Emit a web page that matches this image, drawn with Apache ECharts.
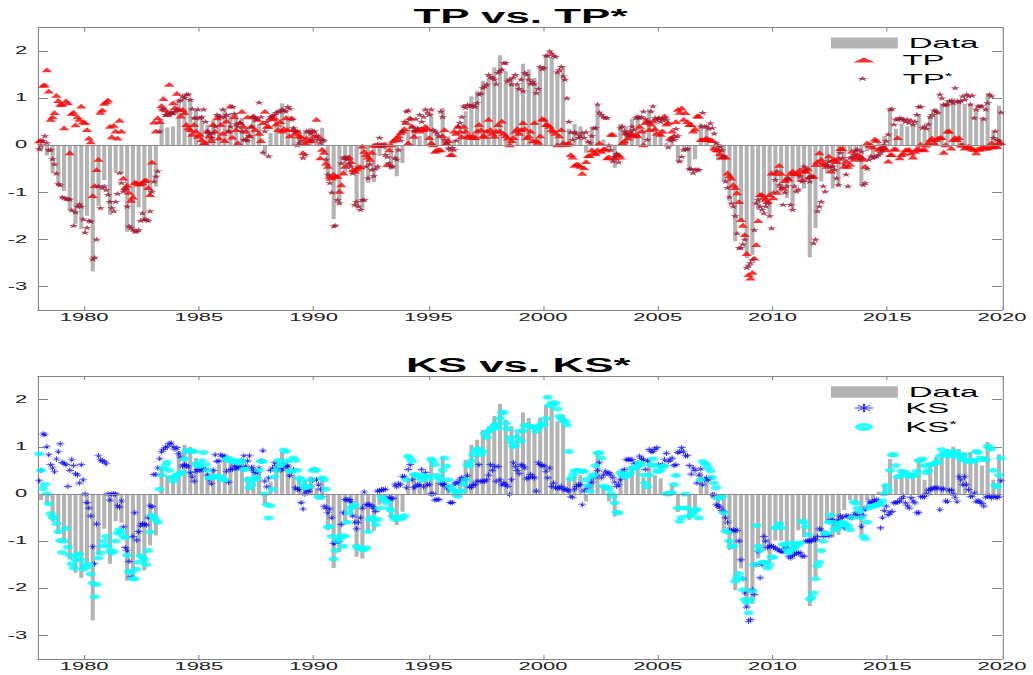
<!DOCTYPE html>
<html><head><meta charset="utf-8">
<script src="https://cdn.jsdelivr.net/npm/echarts@6/dist/echarts.min.js"></script>
<style>
html,body{margin:0;padding:0;background:#fff;overflow:hidden;width:1033px;height:675px}
#chart{width:470px;height:675px;transform:scaleX(2.19787);transform-origin:0 0;}
</style></head><body><div id="chart"></div>
<script>
// Tick labels
const yearTicks = [1980, 1985, 1990, 1995, 2000, 2005, 2010, 2015, 2020];
const valueTicks = [-3, -2, -1, 0, 1, 2];

// Quarterly data (bars), 1978Q1 .. 2019Q4
const dataBars = [
-0.13,-0.22,-0.59,-0.85, -0.97,-1.39,-1.67,-1.78, -1.5,-2.68,-1.29,-0.74, -1.48,-0.58,-0.61,-1.84,
-1.75,-1.32,-1.62,-1.09, -0.88,0.56,0.38,0.4, 0.91,1.04,1.0,0.76, 0.6,0.44,0.53,0.63,
0.77,0.69,0.69,0.58, 0.37,0.62,0.44,-0.22, 0.26,0.55,0.89,0.63, 0.4,0.33,0.3,0.37,
0.12,0.37,-0.77,-1.57, -1.23,-0.6,-0.45,-1.33, -1.37,-0.8,-0.78,-0.23, -0.1,-0.52,-0.66,-0.38,
0.33,0.4,0.2,0.4, 0.69,0.26,0.79,0.19, 0.12,0.26,0.72,1.04, 1.15,1.36,1.43,1.65,
1.91,1.57,1.43,1.29, 1.73,1.61,1.43,1.62, 1.89,1.86,1.54,1.68, 0.35,0.45,0.4,-0.16,
0.37,0.84,0.12,-0.16, -0.48,0.45,0.4,0.56, 0.65,0.35,0.76,0.4, 0.33,0.05,0.2,-0.38,
-0.05,-0.55,-0.3,0.46, 0.33,-0.1,-0.32,-0.77, -1.19,-2.04,-1.58,-2.4, -2.33,-1.37,-1.2,-1.47,
-0.99,-0.99,-1.12,-1.35, -0.77,-0.92,-2.38,-1.76, -0.77,-0.59,-0.92,-0.87, -0.34,-0.13,-0.23,-0.87,
-0.13,-0.23,0.05,0.2, 0.74,0.35,0.46,0.4, 0.44,0.67,0.3,0.6, 0.78,0.88,0.95,1.0,
0.95,0.88,0.89,0.74, 0.6,1.1,0.3,0.84
];

// Monthly TP, Jan 1978 .. Dec 2019
const tp = [
0.09,0.1,1.27,1.28,1.6,1.15,0.55,0.6,0.69,1.06,0.95,0.87,
0.87,0.37,0.94,0.9,-0.16,0.67,0.7,0.43,0.6,0.55,0.83,0.5,
0.48,0.33,0.15,0.07,-1.07,-0.86,-0.52,-0.3,0.7,0.75,0.89,0.92,
0.96,0.4,0.18,0.42,0.3,0.15,0.53,0.3,-0.7,-0.9,-0.85,-1.0,
-1.17,-1.1,-0.79,-0.8,-0.82,-0.82,-0.8,-0.75,-0.74,-0.9,-1.05,-0.36,
0.49,0.3,0.58,0.5,0.84,0.99,0.75,0.65,1.29,0.69,0.9,0.8,
1.1,0.76,0.62,0.76,0.69,0.44,0.37,0.33,0.23,0.44,0.3,0.19,
0.23,0.12,0.05,0.04,0.3,0.2,0.1,0.44,0.3,0.58,0.15,0.44,
0.25,0.1,0.51,0.3,0.83,0.17,0.6,0.33,0.05,0.48,0.72,0.4,
0.3,0.6,0.2,0.4,0.62,0.33,0.55,0.25,0.1,0.48,0.72,0.4,
0.4,0.58,0.56,0.58,0.45,0.33,0.5,0.3,0.35,0.58,0.33,0.2,
0.58,0.33,0.25,0.3,0.2,0.18,-0.16,0.05,0.15,0.09,0.1,0.3,
0.2,0.55,0.19,-0.27,-0.09,-0.15,-0.38,-0.45,-0.66,-0.7,-0.62,-0.66,
-0.66,-0.98,-0.84,-0.59,-0.45,-0.27,-0.25,-0.35,-0.52,-0.55,-0.5,-0.46,
-0.46,-0.02,-0.13,-0.2,-0.25,-0.3,-0.15,0.0,0.0,0.02,0.0,0.01,
0.01,0.02,-0.41,-0.1,0.01,0.09,0.12,0.16,0.2,0.26,0.3,0.35,
0.48,0.05,0.58,0.4,0.19,0.33,0.33,0.3,0.35,0.33,0.4,0.35,
0.16,0.05,0.01,-0.13,-0.1,-0.1,-0.1,0.2,0.33,0.05,0.1,-0.2,
-0.2,0.3,0.25,0.4,0.3,0.18,0.4,0.3,0.19,0.2,0.16,0.2,
0.16,0.3,0.44,0.33,0.2,0.19,0.3,0.55,0.33,0.25,0.19,0.3,
0.44,0.3,0.51,0.25,0.2,0.15,0.01,0.1,0.16,0.3,0.35,0.25,
0.33,0.48,0.35,0.16,0.2,0.3,0.09,0.48,0.1,0.06,0.2,0.56,
0.55,0.44,0.44,0.4,0.33,0.3,0.25,0.01,0.2,0.33,0.05,0.02,
0.02,0.05,-0.2,-0.25,-0.43,-0.4,-0.41,-0.45,-0.6,-0.48,-0.35,-0.22,
-0.22,-0.1,-0.15,-0.18,-0.1,0.05,-0.13,-0.08,-0.08,-0.27,-0.25,0.23,
0.23,-0.27,-0.2,-0.2,-0.25,0.05,0.09,0.26,0.15,0.23,0.24,0.2,
0.23,0.2,0.4,0.3,0.01,0.48,0.51,0.33,0.45,0.51,0.35,0.25,
0.58,0.23,0.3,0.62,0.45,0.48,0.15,0.3,0.2,0.5,0.76,0.7,
0.79,0.55,0.69,0.5,0.44,0.44,0.3,0.35,0.62,0.62,0.12,0.12,
0.12,0.15,0.12,0.12,0.1,-0.06,-0.1,-0.1,-0.18,-0.25,-0.24,-0.25,
-0.59,-0.65,-0.7,-0.84,-0.9,-1.01,-1.2,-1.58,-1.7,-1.9,-2.3,-2.75,
-2.82,-2.7,-2.4,-2.11,-1.6,-1.05,-1.05,-1.1,-1.15,-1.2,-1.05,-0.59,
-1.12,-0.59,-1.0,-0.43,-0.6,-0.91,-0.75,-0.7,-0.72,-0.6,-0.55,-0.6,
-0.61,-0.6,-0.52,-0.73,-0.55,-0.55,-0.5,-0.66,-0.66,-0.66,-0.41,-0.35,
-0.16,-0.3,-0.38,-0.41,-0.45,-0.23,-0.55,-0.32,-0.3,-0.35,-0.28,-0.07,
-0.07,-0.45,-0.34,-0.45,-0.4,-0.13,-0.3,-0.25,-0.2,-0.23,-0.25,-0.3,
-0.45,0.05,0.0,0.01,-0.04,0.13,0.1,-0.08,-0.08,-0.02,-0.05,-0.1,
-0.34,-0.2,-0.2,-0.08,-0.08,0.16,-0.27,-0.2,-0.17,-0.1,-0.1,-0.09,
-0.17,-0.25,-0.13,-0.08,-0.08,0.02,-0.1,-0.09,0.0,0.05,0.12,0.15,
0.05,0.12,0.15,0.16,0.16,-0.15,0.01,0.3,0.3,-0.06,0.12,0.16,
0.12,0.16,0.0,0.01,-0.06,-0.03,-0.02,-0.05,-0.08,-0.09,-0.16,-0.08,
-0.08,-0.04,-0.05,-0.06,-0.06,-0.03,0.05,-0.04,0.0,-0.03,0.06,0.05
];

// Monthly TP*
const tpStar = [
-0.08,0.0,0.1,0.2,0.05,-0.1,-0.1,-0.29,-0.4,-0.6,-0.82,-0.85,
-1.1,-1.12,-1.14,-1.14,-1.15,-1.38,-1.71,-1.42,-1.3,-1.25,-1.3,-1.57,
-1.85,-1.75,-1.6,-1.62,-2.42,-2.38,-2.0,-0.87,-1.33,-0.9,-0.87,-0.95,
-1.05,-1.2,-1.33,-1.4,-1.2,-1.03,-0.59,-0.8,-0.98,-0.94,-1.3,-1.72,
-1.75,-1.79,-1.83,-1.83,-1.8,-1.6,-1.44,-1.57,-1.58,-1.6,-1.4,-0.98,
-0.77,-0.66,-0.55,0.3,0.76,0.78,0.65,0.7,0.66,0.7,0.68,0.72,
0.76,0.94,0.96,1.04,1.01,1.08,1.08,0.97,0.77,0.58,0.58,0.76,
0.58,0.6,0.76,0.5,0.3,0.25,0.16,0.26,0.4,0.65,0.62,0.6,
0.76,0.6,0.65,0.3,0.4,0.82,0.67,0.45,0.4,0.48,0.3,0.12,
0.12,0.1,0.2,0.4,0.6,0.58,0.55,0.91,0.6,-0.15,0.3,0.5,
-0.23,0.6,0.63,0.65,0.69,0.72,0.72,0.76,0.74,0.72,0.82,0.78,
0.55,0.37,0.3,0.0,0.05,0.1,-0.27,-0.2,0.3,0.3,0.25,0.12,
0.3,0.2,0.12,0.05,0.12,0.1,-0.3,-0.62,-0.8,-1.0,-1.72,-1.7,
-1.16,-1.23,-0.38,-0.27,-0.25,-0.3,-0.4,-0.45,-0.6,-1.26,-1.2,-1.3,
-1.37,-1.16,-1.16,-0.45,-0.7,-0.4,-0.52,-0.65,-0.5,-0.45,0.16,0.0,
-0.02,-0.2,-0.25,-0.38,-0.45,-0.45,-0.27,-0.3,-0.1,0.1,0.3,0.5,
0.72,0.74,0.55,0.4,0.3,0.56,0.37,0.65,0.5,0.6,0.76,0.7,
0.65,0.76,0.33,0.3,0.26,0.2,0.72,0.6,0.12,0.05,-0.06,-0.1,
-0.05,-0.1,0.1,0.4,0.48,0.6,0.83,0.8,0.86,0.84,0.83,0.85,
0.82,0.9,1.08,1.1,1.22,1.25,1.29,1.5,1.45,1.43,1.4,1.3,
1.54,1.58,1.61,1.75,1.75,1.36,1.4,1.29,1.44,1.5,1.3,1.2,
1.4,1.15,1.54,1.5,1.4,1.31,1.35,1.3,1.11,1.2,1.67,1.62,
1.65,1.91,1.9,2.0,1.95,1.9,1.88,1.55,1.6,1.67,1.47,1.4,
1.0,0.5,0.28,0.12,0.28,0.25,0.16,0.2,0.26,0.16,0.28,0.08,
0.05,0.2,0.37,0.37,0.87,0.7,0.65,0.6,0.58,0.58,0.0,-0.1,
-0.34,-0.24,-0.18,-0.36,0.37,0.4,0.3,0.25,0.2,0.3,0.4,0.33,
0.58,0.6,0.58,0.6,0.72,0.56,0.12,0.5,0.72,0.83,0.58,0.54,
0.58,0.5,0.55,0.58,0.54,-0.04,0.1,0.15,0.12,0.35,0.2,-0.34,
-0.24,-0.1,-0.08,-0.08,-0.5,-0.5,-0.59,-0.52,-0.52,-0.52,0.4,0.69,
0.4,0.4,0.35,0.47,0.37,0.25,0.05,0.0,-0.03,-0.1,-0.23,-0.77,
-0.9,-1.1,-1.23,-1.3,-1.5,-1.87,-2.18,-2.18,-2.1,-2.0,-2.6,-2.55,
-2.5,-2.43,-1.8,-1.23,-1.16,-1.3,-1.37,-1.44,-1.3,-1.23,-1.5,-1.76,
-1.0,-0.73,-0.55,-0.84,-0.9,-1.26,-1.0,-0.87,-0.7,-1.26,-1.37,-0.87,
-0.98,-0.94,-0.66,-0.77,-0.45,-0.5,-0.7,-0.77,-0.66,-2.08,-2.0,-1.4,
-1.3,-1.2,-0.87,-0.98,-0.41,-0.34,-0.45,-0.45,-0.52,-0.7,-0.84,-0.16,
-0.27,-0.4,-0.62,-0.87,-0.27,-0.25,-0.2,-0.11,-0.09,-0.3,-0.13,-0.84,
-0.8,-0.5,-0.3,-0.23,-0.27,-0.25,-0.23,-0.2,-0.16,-0.09,0.0,0.09,
0.23,0.76,0.77,0.44,0.55,0.55,0.58,0.56,0.55,0.5,0.55,0.48,
0.53,0.44,0.5,0.65,0.82,0.82,0.37,0.4,0.35,0.45,0.6,0.65,
0.74,0.72,0.69,1.08,1.0,0.87,0.85,0.87,0.94,0.94,0.9,1.22,
0.94,0.92,0.94,1.04,0.97,1.08,1.04,0.87,1.06,0.58,0.76,0.83,
0.83,0.83,0.56,0.76,0.9,1.08,1.04,0.16,0.3,0.12,0.1,0.7
];

// Monthly KS
const ks = [
0.28,0.5,1.27,1.26,1.0,0.83,0.62,0.55,0.47,0.74,0.9,1.06,
0.67,0.65,0.62,0.16,0.5,0.73,0.6,0.43,0.4,0.23,0.62,0.3,
0.0,-0.18,-0.3,-0.47,-1.12,-1.48,-0.64,0.81,0.73,0.7,0.68,0.64,
0.0,-0.13,0.0,0.0,0.0,-0.25,-0.28,-0.15,-0.7,-1.14,-1.2,-1.43,
-1.76,-0.9,-0.4,-0.98,-0.8,-0.67,-0.63,-0.65,-0.66,-0.5,-0.25,-0.27,
0.41,0.41,0.55,0.75,0.9,0.94,0.99,1.0,1.07,1.08,1.0,0.95,
0.98,0.85,0.78,0.59,0.62,0.6,0.57,0.45,0.37,0.27,0.48,0.52,
0.5,0.52,0.52,0.52,0.4,0.3,0.22,0.5,0.83,0.69,0.7,0.83,
0.8,0.8,0.48,0.25,0.52,0.52,0.59,0.55,0.55,0.59,0.7,0.81,
0.59,0.7,0.81,0.56,0.5,0.45,0.45,0.55,0.7,0.92,0.27,0.15,
0.34,0.5,0.55,0.66,0.6,0.52,0.5,0.53,0.64,0.58,0.59,0.39,
0.45,0.52,0.13,0.1,0.09,-0.18,-0.32,0.0,0.06,0.06,0.15,0.29,
0.52,0.3,0.2,0.1,-0.05,-0.26,-0.3,-0.4,-0.32,-0.5,-1.05,-1.02,
-1.0,-1.0,-0.65,-0.4,-0.12,-0.13,-0.12,-0.16,-0.47,-0.6,-0.74,-0.6,
-0.5,-0.3,0.04,-0.23,-0.22,-0.23,-0.26,-0.3,-0.37,0.06,0.06,0.09,
0.09,0.1,-0.1,-0.08,-0.09,-0.1,0.2,0.15,0.22,0.2,0.37,0.37,
0.13,0.52,0.62,0.3,0.13,0.16,0.2,0.2,0.52,0.15,0.45,0.2,
0.2,0.0,0.0,-0.13,-0.12,-0.12,0.22,0.2,0.22,0.15,0.1,-0.18,
-0.18,0.2,0.25,0.23,0.3,0.35,0.3,0.3,0.39,0.15,0.14,0.2,
0.2,0.27,0.62,0.27,0.27,0.27,0.3,0.4,0.62,0.5,0.58,0.27,
0.58,0.3,0.2,0.23,0.2,0.16,-0.01,0.3,0.66,0.58,0.5,0.43,
0.62,0.59,0.55,0.32,0.35,0.41,0.37,0.34,0.06,0.66,0.62,0.6,
0.59,0.48,0.34,0.55,0.16,0.23,0.13,0.12,0.13,0.16,0.1,0.1,
0.09,0.06,-0.05,-0.07,0.1,0.16,0.2,0.2,-0.23,0.06,0.1,0.15,
0.2,0.25,0.34,0.4,0.5,0.66,0.34,0.4,0.48,0.44,0.45,0.4,
0.34,0.25,0.16,0.2,0.3,0.48,0.52,0.73,0.73,0.73,0.73,0.65,
0.57,0.65,0.8,0.75,0.73,0.52,0.7,0.94,0.9,0.9,0.95,0.98,
0.62,0.6,0.62,0.73,0.86,0.69,0.72,0.76,0.6,0.62,0.88,0.9,
0.98,0.9,0.81,0.81,0.6,0.42,0.55,0.5,0.23,0.4,0.53,0.2,
0.3,0.34,0.3,0.34,-0.01,-0.02,-0.23,-0.25,-0.28,-0.35,-0.37,-0.5,
-0.6,-0.77,-0.78,-0.76,-0.78,-0.77,-1.0,-1.4,-1.8,-2.1,-2.4,-2.7,
-2.66,-2.03,-2.13,-1.5,-1.22,-1.78,-1.5,-0.9,-1.0,-1.14,-1.1,-1.11,
-1.12,-1.15,-1.18,-1.2,-1.22,-1.22,-1.15,-1.14,-1.32,-1.36,-1.3,-1.28,
-1.25,-1.25,-1.25,-1.32,-1.32,-1.0,-1.0,-1.0,-1.0,-0.94,-0.97,-0.9,
-0.74,-0.77,-0.9,-0.87,-0.85,-0.89,-0.54,-0.57,-0.6,-0.67,-0.55,-0.47,
-0.5,-0.72,-0.47,-0.47,-0.5,-0.51,-0.45,-0.4,-0.45,-0.49,-0.69,-0.45,
-0.33,-0.28,-0.16,-0.2,-0.16,-0.15,-0.12,-0.15,-0.72,-0.5,-0.35,-0.26,
-0.44,-0.4,-0.37,-0.19,-0.18,-0.17,-0.15,-0.1,-0.05,-0.19,-0.25,-0.3,
-0.08,-0.15,-0.19,-0.4,-0.4,-0.06,-0.06,-0.06,0.0,0.08,0.1,0.11,
0.13,0.12,0.13,-0.33,0.1,0.11,-0.15,-0.16,0.08,0.08,0.0,-0.07,
-0.16,0.37,0.3,0.2,0.37,0.2,0.09,-0.05,-0.05,0.02,-0.16,-0.14,
-0.16,-0.2,-0.26,-0.07,-0.05,-0.05,-0.08,-0.05,-0.06,-0.08,-0.05,0.28
];

// Monthly KS*
const ksStar = [
0.85,0.5,0.11,0.2,0.0,-0.21,-0.42,-0.5,-0.51,-0.63,-0.8,-0.99,
-1.24,-1.0,-0.73,-1.13,-1.3,-1.48,-1.57,-1.39,-1.3,-1.27,-1.4,-1.6,
-1.5,-1.55,-1.5,-1.7,-1.89,-2.18,-1.92,-1.36,-1.25,-1.1,-1.0,-0.9,
-1.1,-1.2,-1.25,-1.22,-1.0,-0.83,-0.76,-0.8,-0.9,-0.93,-1.3,-1.64,
-1.67,-1.8,-1.8,-1.6,-1.45,-1.31,-1.35,-1.39,-1.5,-1.2,-0.81,-0.45,
-0.5,-0.55,-0.6,0.1,0.4,0.53,0.6,0.67,0.5,0.35,0.27,0.34,
0.4,0.42,0.45,0.45,0.74,0.9,0.93,0.92,0.9,0.9,0.64,0.59,
0.59,0.7,0.88,0.62,0.5,0.34,0.34,0.37,0.37,0.37,0.35,0.36,
0.3,0.3,0.73,0.76,0.7,0.69,0.7,0.7,0.66,0.66,0.7,0.52,
0.52,0.3,0.13,0.2,0.3,0.36,0.33,0.5,0.69,0.69,0.0,-0.23,
-0.51,-0.25,0.1,0.36,0.5,0.71,0.6,0.65,0.93,0.9,0.7,0.48,
0.48,0.76,0.71,0.5,0.34,0.3,0.2,0.13,0.15,0.16,0.3,0.5,
0.52,0.5,-0.05,-0.08,0.34,0.3,0.1,-0.7,-0.69,-0.9,-1.38,-1.2,
-1.0,-0.95,-0.88,-1.11,-0.9,-0.6,-0.4,-0.3,-0.26,-0.23,-1.11,-1.15,
-1.15,-1.18,-1.18,-1.14,-0.8,-0.54,-0.5,-0.55,-0.65,-0.54,-0.3,-0.05,
-0.1,-0.15,-0.19,-0.3,-0.35,-0.47,-0.54,-0.5,-0.52,-0.53,-0.5,-0.46,
0.3,0.8,0.75,0.69,0.41,0.41,0.39,0.35,0.3,0.39,0.37,0.37,
0.32,0.74,0.7,0.62,0.39,0.35,0.29,0.5,0.76,0.59,0.3,0.16,
0.1,0.06,-0.02,-0.05,0.06,0.06,0.2,0.3,0.62,0.59,0.7,0.83,
0.9,0.95,0.95,0.83,0.9,1.28,1.2,1.33,1.35,1.4,1.45,1.49,
1.4,1.6,1.72,1.73,1.5,1.38,1.19,1.1,1.01,1.02,1.2,1.33,
1.12,1.34,1.45,1.45,1.44,1.43,1.42,1.42,1.33,1.4,1.45,1.5,
1.47,1.6,2.05,1.87,1.93,1.9,1.93,1.8,1.65,1.6,1.55,1.54,
1.46,0.9,0.32,0.4,0.48,0.5,0.5,0.48,0.48,0.48,0.3,0.18,
0.06,0.37,0.41,0.6,0.87,0.87,0.76,0.16,0.15,0.14,0.1,0.0,
-0.05,-0.19,-0.39,-0.4,0.45,0.4,0.37,0.37,0.4,0.45,0.55,0.55,
0.55,0.6,0.66,0.62,0.4,0.23,0.15,0.4,0.62,0.74,0.6,0.48,
0.48,0.5,0.59,0.59,0.0,0.0,0.02,0.02,0.2,0.39,-0.3,-0.58,
-0.5,-0.3,0.0,-0.3,-0.47,-0.45,-0.4,-0.35,-0.33,-0.51,0.3,0.69,
0.65,0.62,0.55,0.49,0.35,0.23,0.13,-0.1,-0.08,-0.05,-0.4,-0.79,
-0.81,-1.0,-1.11,-1.11,-1.85,-1.78,-1.69,-1.8,-2.03,-2.24,-2.3,-2.52,
-2.24,-2.06,-1.5,-0.67,-1.11,-1.2,-1.45,-1.45,-1.45,-1.57,-1.5,-1.34,
-1.34,-0.72,-0.7,-0.63,-0.72,-1.07,-1.07,-1.18,-1.25,-1.04,-1.18,-1.14,
-1.1,-1.05,-1.04,-0.58,-0.6,-0.7,-0.86,-2.23,-2.2,-2.1,-1.8,-1.53,
-1.45,-1.2,-1.0,-0.84,-0.83,-0.6,-0.45,-0.6,-0.74,-0.76,-0.67,-0.65,
-0.6,-0.62,-0.65,-0.69,-0.76,-0.5,-0.17,-0.19,-0.3,-0.37,-0.5,-0.9,
-0.95,-0.6,-0.3,-0.26,-0.26,-0.26,-0.23,-0.22,-0.21,-0.15,0.0,0.18,
0.08,0.5,0.83,0.83,0.6,0.37,0.37,0.48,0.46,0.46,0.4,0.39,
0.37,0.39,0.4,0.48,0.71,0.71,0.74,0.6,0.45,0.5,0.62,0.63,
0.64,0.66,0.69,0.8,0.94,0.85,0.81,0.9,0.88,0.81,0.85,0.9,
0.85,0.8,0.75,0.73,0.83,0.69,0.72,0.71,0.69,0.7,0.9,0.88,
0.76,0.73,0.75,0.73,1.01,0.98,0.95,0.5,0.18,0.15,0.4,0.76
];

// ---- construction ----
const START = 1978;
const quarterPairs = arr => arr.map((v, i) => [START + (i + 0.5) / 4, v]);
const monthPairs = arr => arr.map((v, i) => [START + (i + 0.5) / 12, v]);

const FONT = 'Liberation Sans, Arial, Helvetica, sans-serif';
const AX = '#858585';
const STAR = 'path://M50,0L61.2,34.5L97.6,34.5L68.2,55.9L79.4,90.5L50,69.1L20.6,90.5L31.8,55.9L2.4,34.5L38.8,34.5Z';
const AST = 'path://M44,0L56,0L56,44L100,44L100,56L56,56L56,100L44,100L44,56L0,56L0,44L44,44Z M14,19L19,14L86,81L81,86Z M81,14L86,19L19,86L14,81Z';

const grids = [
  {left: 17.4, width: 440.5, top: 27.5, height: 282.5},
  {left: 17.4, width: 440.5, top: 376, height: 283}
];

function xAx(g, pos, lab) {
  return {type: 'value', gridIndex: g, position: pos, min: 1978, max: 2020,
    axisLine: {show: true, onZero: false, lineStyle: {color: AX, width: 1}},
    axisTick: {show: true, inside: true, length: 4, customValues: yearTicks, lineStyle: {color: AX, width: 0.5}},
    axisLabel: {show: lab, customValues: yearTicks, margin: 3, color: '#222', fontSize: 10, fontFamily: FONT,
      formatter: v => String(v)},
    splitLine: {show: false}};
}
function yAx(g, pos, lab) {
  return {type: 'value', gridIndex: g, position: pos, min: -3.5, max: 2.5,
    axisLine: {show: true, onZero: false, lineStyle: {color: AX, width: 0.5}},
    axisTick: {show: true, inside: true, length: 4.5, customValues: valueTicks, lineStyle: {color: AX, width: 1}},
    axisLabel: {show: lab, customValues: valueTicks, margin: 5, color: '#222', fontSize: 10, fontFamily: FONT,
      formatter: v => String(v)},
    splitLine: {show: false}};
}

const zeroLine = {silent: true, symbol: ['none', 'none'], label: {show: false},
  lineStyle: {color: '#8c8c8c', width: 1, type: 'solid'}, data: [{yAxis: 0}], animation: false};

const legTxt = (pad) => ({fontSize: 15, lineHeight: 15, color: '#000', fontFamily: FONT, padding: [0, 0, 0, pad],
  rich: {s: {fontSize: 9, lineHeight: 15, verticalAlign: 'top', color: '#000', fontFamily: FONT, padding: [0, 0, 4, 0]}}});
const supFmt = n => n === 'TP*' ? 'TP{s|*}' : (n === 'KS*' ? 'KS{s|*}' : n);

function leg(name, icon, left, top, w, h, pad) {
  return {data: [{name: name, icon: icon}], left: left, top: top, orient: 'vertical', padding: 0,
    itemWidth: w, itemHeight: h, selectedMode: false, formatter: supFmt, textStyle: legTxt(pad)};
}

const option = {
  animation: false,
  backgroundColor: '#fff',
  title: [
    {text: 'TP vs. TP*', left: 236.8, top: 6, textAlign: 'center', padding: 0,
     textStyle: {fontSize: 20, fontWeight: 'bold', color: '#000', fontFamily: FONT}},
    {text: 'KS vs. KS*', left: 235.8, top: 354.5, textAlign: 'center', padding: 0,
     textStyle: {fontSize: 20, fontWeight: 'bold', color: '#000', fontFamily: FONT}}
  ],
  legend: [
    leg('Data', 'rect', 378.1, 35.5, 30.4, 11, 0),
    leg('TP', 'triangle', 388.1, 52.5, 10, 5, 7.5),
    leg('TP*', STAR, 389.8, 71, 5.3, 6.5, 10.6),
    leg('Data', 'rect', 378.1, 384.5, 30.4, 11.5, 0),
    leg('KS', AST, 389.0, 400.5, 8.3, 8.4, 9.6),
    leg('KS*', 'circle', 389.0, 419.5, 8.2, 8.3, 9.7)
  ],
  grid: grids,
  xAxis: [xAx(0, 'bottom', true), xAx(0, 'top', false), xAx(1, 'bottom', true), xAx(1, 'top', false)],
  yAxis: [yAx(0, 'left', true), yAx(0, 'right', false), yAx(1, 'left', true), yAx(1, 'right', false)],
  series: [
    {type: 'bar', name: 'Data', xAxisIndex: 0, yAxisIndex: 0, data: quarterPairs(dataBars), barWidth: 1.85,
     itemStyle: {color: '#b3b3b3'}, silent: true, markLine: zeroLine},
    {type: 'scatter', name: 'TP', xAxisIndex: 0, yAxisIndex: 0, data: monthPairs(tp), symbol: 'triangle',
     symbolSize: [4.8, 4.8], itemStyle: {color: '#ff0000'}, silent: true},
    {type: 'scatter', name: 'TP*', xAxisIndex: 0, yAxisIndex: 0, data: monthPairs(tpStar), symbol: STAR,
     symbolSize: [4.3, 5.2], itemStyle: {color: '#a2142f'}, silent: true},
    {type: 'bar', name: 'Data', xAxisIndex: 2, yAxisIndex: 2, data: quarterPairs(dataBars), barWidth: 1.85,
     itemStyle: {color: '#b3b3b3'}, silent: true, markLine: zeroLine},
    {type: 'scatter', name: 'KS', xAxisIndex: 2, yAxisIndex: 2, data: monthPairs(ks), symbol: AST,
     symbolSize: [3.8, 5.5], itemStyle: {color: '#0000ff'}, silent: true},
    {type: 'scatter', name: 'KS*', xAxisIndex: 2, yAxisIndex: 2, data: monthPairs(ksStar), symbol: 'circle',
     symbolSize: [4.6, 5], itemStyle: {color: '#00ffff'}, silent: true}
  ]
};

const chart = echarts.init(document.getElementById('chart'), null, {renderer: 'svg', width: 470, height: 675});
chart.setOption(option);
</script></body></html>
